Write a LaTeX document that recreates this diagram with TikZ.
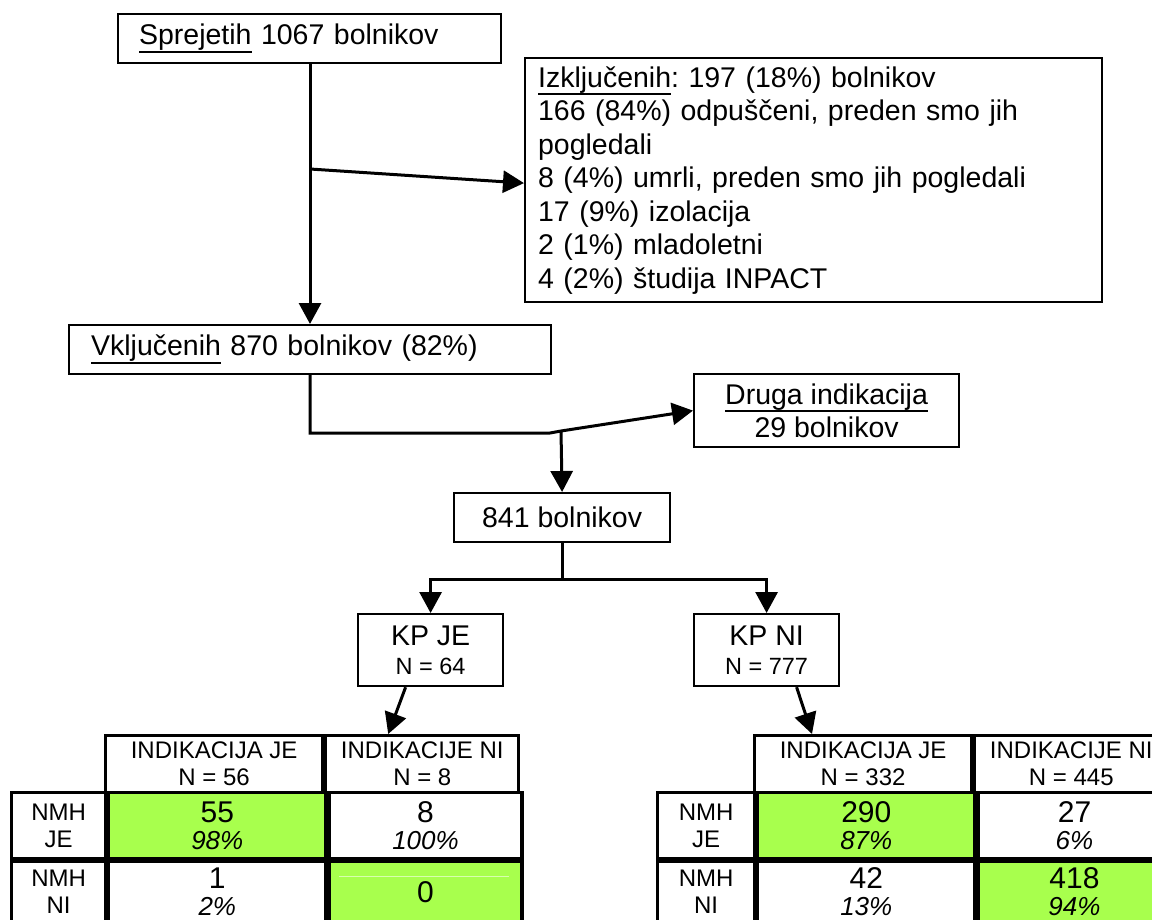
\documentclass[tikz,border=0pt]{standalone}
\usepackage{fontspec}
\setmainfont{Liberation Sans}
\usetikzlibrary{arrows.meta,calc}
\definecolor{okgreen}{RGB}{168,255,77}
\frenchspacing
% underline with a fixed depth and weight, sized for the large text
\newcommand\ulword[1]{\setbox0\hbox{#1}\rlap{\rule[-8.3pt]{\wd0}{1.9pt}}\box0\relax}
\newcommand\cnum[1]{{\fontsize{30}{28}\selectfont #1}}
\newcommand\cpct[1]{{\fontsize{26}{28}\selectfont\itshape #1}}
\begin{document}
\begin{tikzpicture}[x=1pt,y=-1pt,
  box/.style={draw,line width=2.2pt,rectangle,anchor=north west,inner ysep=0pt,
    font=\fontsize{28.5}{33.5}\selectfont},
  lbox/.style={box,align=left},
  cbox/.style={box,align=center,inner xsep=0pt},
  conn/.style={line width=3pt},
  arr/.style={conn,-{Triangle[length=21pt,width=22pt]}},
  cell/.style={draw,line width=3.2pt,rectangle,anchor=north west,inner sep=0pt,
    align=center,font=\fontsize{24}{27}\selectfont},
  hit/.style={cell,fill=okgreen},
  wide/.style={minimum width=217pt},
  narrow/.style={minimum width=193pt},
  lab/.style={minimum width=94pt},
  hrow/.style={minimum height=57pt},
  row1/.style={minimum height=66pt},
  row2/.style={minimum height=60pt},
]
\useasboundingbox (0,0) rectangle (1152,919);
\clip (0,0) rectangle (1152,919);

% flow boxes
\node[lbox,text width=341pt,inner xsep=21pt,minimum height=49pt] (top) at (117,13)
  {\ulword{Sprejetih} 1067 bolnikov};
\node[lbox,text width=551pt,inner xsep=13pt,minimum height=244pt] (excl) at (524,57)
  {\ulword{Izključenih}: 197 (18\%) bolnikov\\
   166 (84\%) odpuščeni, preden smo jih\\
   pogledali\\
   8 (4\%) umrli, preden smo jih pogledali\\
   17 (9\%) izolacija\\
   2 (1\%) mladoletni\\
   4 (2\%) študija INPACT};
\node[lbox,text width=438pt,inner xsep=22pt,minimum height=49pt] (incl) at (68,324)
  {\ulword{Vključenih} 870 bolnikov (82\%)};
\node[cbox,minimum width=265pt,minimum height=73pt] (druga) at (693,373)
  {\ulword{Druga indikacija}\\29 bolnikov};
\node[cbox,minimum width=216pt,minimum height=49pt] (b841) at (453,492)
  {841 bolnikov};
\node[cbox,minimum width=145pt,minimum height=72pt] (kpje) at (357,613)
  {KP JE\\[-5pt]{\fontsize{23.5}{30}\selectfont N = 64}};
\node[cbox,minimum width=145pt,minimum height=72pt] (kpni) at (693,613)
  {KP NI\\[-5pt]{\fontsize{23.5}{30}\selectfont N = 777}};

% connectors
\coordinate (j1) at (310,169);
\coordinate (k2) at (550,433);
\coordinate (j2) at (561,431);
\draw[arr] (top.south -| j1) -- (incl.north -| j1);
\draw[arr] (j1) -- ([yshift=-3pt]excl.west);
\draw[conn] (incl.south) |- (k2) -- (j2);
\draw[arr] (j2) -- (druga.west);
\draw[arr] (j2) -- (b841.north);
\draw[arr] (b841.south) -- ++(0,36) -| (kpje.north);
\draw[arr] (b841.south) -- ++(0,36) -| (kpni.north);

% table for KP JE
\node[cell,wide,hrow] (lh1) at (104,734) {INDIKACIJA JE\\N = 56};
\node[cell,narrow,hrow] (lh2) at (lh1.north east) {INDIKACIJE NI\\N = 8};
\node[cell,lab,row1] (lr1) at (10,791) {NMH\\JE};
\node[hit,wide,row1] (l11) at (lr1.north east) {\cnum{55}\\\cpct{98\%}};
\node[cell,narrow,row1] (l12) at (l11.north east) {\cnum{8}\\\cpct{100\%}};
\node[cell,lab,row2] (lr2) at (lr1.south west) {NMH\\NI};
\node[cell,wide,row2] (l21) at (lr2.north east) {\cnum{1}\\\cpct{2\%}};
\node[hit,narrow,row2] (l22) at (l21.north east) {\cnum{0}};
\draw[white!55!okgreen,line width=0.8pt]
  ([xshift=12pt,yshift=-16pt]l22.north west) -- ([xshift=-15pt,yshift=-16pt]l22.north east);

% table for KP NI
\node[cell,wide,hrow] (rh1) at (753,734) {INDIKACIJA JE\\N = 332};
\node[cell,narrow,hrow] (rh2) at (rh1.north east) {INDIKACIJE NI\\N = 445};
\node[cell,minimum width=97pt,row1] (rr1) at (656,791) {NMH\\JE};
\node[hit,wide,row1] (r11) at (rr1.north east) {\cnum{290}\\\cpct{87\%}};
\node[cell,narrow,row1] (r12) at (r11.north east) {\cnum{27}\\\cpct{6\%}};
\node[cell,minimum width=97pt,row2] (rr2) at (rr1.south west) {NMH\\NI};
\node[cell,wide,row2] (r21) at (rr2.north east) {\cnum{42}\\\cpct{13\%}};
\node[hit,narrow,row2] (r22) at (r21.north east) {\cnum{418}\\\cpct{94\%}};

% the lower cells run on past the bottom edge
\fill[okgreen] (l22.south west) rectangle ++(193,20);
\fill[okgreen] (r22.south west) rectangle ++(193,20);
\draw[line width=3.2pt] (lr2.south west) -- ++(0,20) (l21.south west) -- ++(0,20)
  (l22.south west) -- ++(0,20) (l22.south east) -- ++(0,20)
  (rr2.south west) -- ++(0,20) (r21.south west) -- ++(0,20)
  (r22.south west) -- ++(0,20);

% arrows from the KP boxes to their tables
\draw[arr] ([xshift=-25pt]kpje.south) -- ([xshift=64pt]lh2.north west);
\draw[arr] ([xshift=30pt]kpni.south) -- ([xshift=59pt]rh1.north west);
\end{tikzpicture}
\end{document}
